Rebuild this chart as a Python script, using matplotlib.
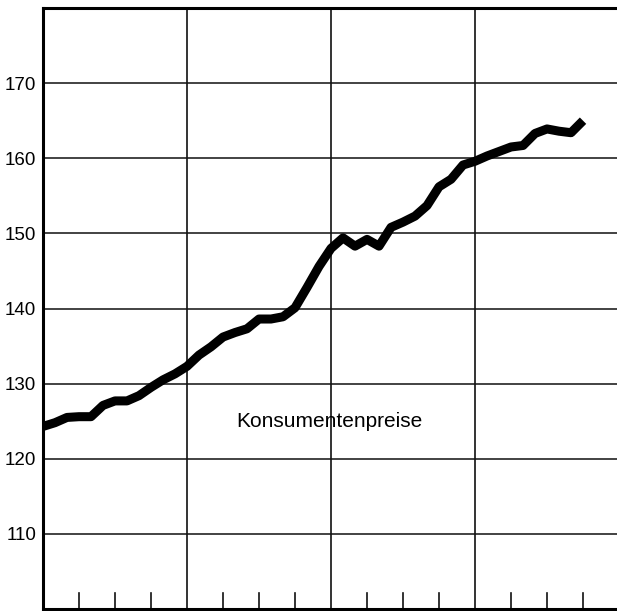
import numpy as np
import matplotlib
matplotlib.use("Agg")
from matplotlib import pyplot as plt

# monthly consumer price index
months = np.arange(46)
prices = [124.3, 124.8, 125.5, 125.6, 125.6, 127.1, 127.7, 127.7, 128.4, 129.5,
          130.5, 131.3, 132.3, 133.8, 134.9, 136.2, 136.8, 137.3, 138.6, 138.6,
          138.9, 140.1, 142.8, 145.6, 148.0, 149.4, 148.3, 149.2, 148.3, 150.8,
          151.5, 152.3, 153.7, 156.2, 157.2, 159.1, 159.6, 160.3, 160.9, 161.5,
          161.7, 163.3, 163.9, 163.6, 163.4, 165.0]
yticks = [110, 120, 130, 140, 150, 160, 170]
year_lines = [12, 24, 36]
quarter_ticks = [3, 6, 9, 15, 18, 21, 27, 30, 33, 39, 42, 45]
label = "Konsumentenpreise"

plt.rcParams['font.family'] = ['Liberation Sans', 'DejaVu Sans']

fig = plt.figure(figsize=(6.17, 6.11), dpi=100)
ax = fig.add_axes([43 / 617, 2 / 611, 1 - 43 / 617, 601 / 611])

ax.plot(months, prices, color='black', lw=6.5, solid_joinstyle='round',
        solid_capstyle='butt', zorder=3)

ax.set_xlim(0, 47.83)
ax.set_ylim(100, 180)

for y in yticks:
    ax.axhline(y, color='#222222', lw=1.2, zorder=1)
for x in year_lines:
    ax.axvline(x, color='#111111', lw=1.2, zorder=1)
for x in quarter_ticks:
    ax.plot([x, x], [100, 102.1], color='#111111', lw=1.2, zorder=1)

ax.set_yticks(yticks)
ax.set_yticklabels([str(v) for v in yticks], fontsize=13.5)
ax.tick_params(axis='y', length=0, pad=5)
ax.set_xticks([])

ax.spines['right'].set_visible(False)
for s in ['left', 'bottom', 'top']:
    ax.spines[s].set_linewidth(2.2)
    ax.spines[s].set_color('black')

ax.text(23.9, 124.9, label, fontsize=15, ha='center', va='center')

fig.savefig('out.png', dpi=100)
